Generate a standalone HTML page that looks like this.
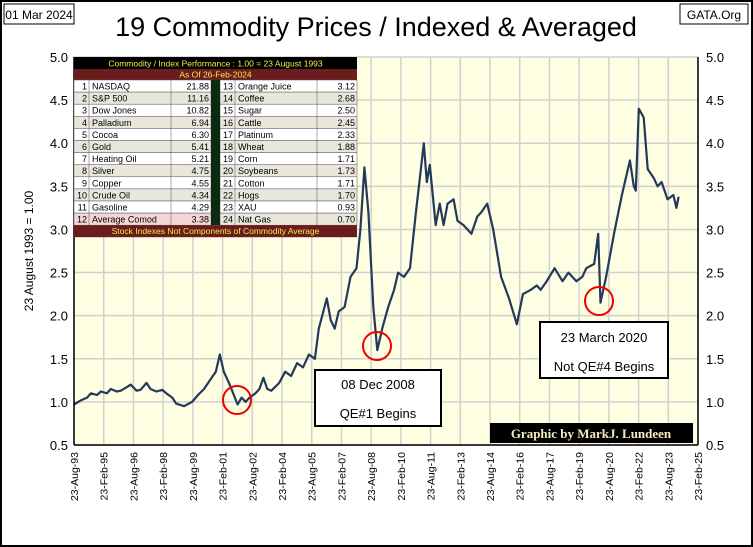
<!DOCTYPE html>
<html><head><meta charset="utf-8"><style>
body{margin:0;background:#fff;}
svg{display:block;font-family:"Liberation Sans",sans-serif;}
</style></head><body>
<svg id="c" width="753" height="547" xmlns="http://www.w3.org/2000/svg">
<rect x="1" y="1" width="751" height="545" fill="#fff" stroke="#000" stroke-width="2"/>
<rect x="74" y="57" width="624" height="388" fill="#fefee2"/>
<g id="grid"></g>
<g id="yt"></g>
<g id="xt"></g>
<path id="line" fill="none" stroke="#24395a" stroke-width="2.2" stroke-linejoin="round"/>
<line x1="74" y1="57" x2="74" y2="445" stroke="#000" stroke-width="1.5"/>
<line x1="74" y1="445" x2="698" y2="445" stroke="#000" stroke-width="1.5"/>
<line x1="698" y1="57" x2="698" y2="445" stroke="#000" stroke-width="1.5"/>
<text x="376" y="36" font-size="27" text-anchor="middle" font-family="Liberation Sans">19 Commodity Prices / Indexed &amp; Averaged</text>
<rect x="4" y="4" width="70" height="20" fill="#fff" stroke="#000"/>
<text x="39" y="19" font-size="12" text-anchor="middle">01 Mar 2024</text>
<rect x="680" y="4" width="68" height="20" fill="#fff" stroke="#000"/>
<text x="714" y="19" font-size="12" text-anchor="middle">GATA.Org</text>
<text transform="translate(33,251) rotate(-90)" font-size="12" text-anchor="middle">23 August 1993  =  1.00</text>
<g id="tbl"></g>
<circle cx="237" cy="400" r="14" fill="none" stroke="#e00" stroke-width="2"/>
<circle cx="377" cy="346" r="14" fill="none" stroke="#e00" stroke-width="2"/>
<circle cx="599" cy="301" r="14" fill="none" stroke="#e00" stroke-width="2"/>
<rect x="315" y="370" width="126" height="56" fill="#fff" stroke="#000" stroke-width="2"/>
<text x="378" y="389" font-size="13" text-anchor="middle">08 Dec 2008</text>
<text x="378" y="418" font-size="13" text-anchor="middle">QE#1 Begins</text>
<rect x="540" y="322" width="128" height="56" fill="#fff" stroke="#000" stroke-width="2"/>
<text x="604" y="342" font-size="13" text-anchor="middle">23 March 2020</text>
<text x="604" y="371" font-size="13" text-anchor="middle">Not QE#4 Begins</text>
<rect x="490" y="423" width="203" height="20" fill="#000"/>
<text x="591" y="438" font-size="13" font-weight="bold" fill="#f3ecc0" text-anchor="middle" font-family="Liberation Serif">Graphic by MarkJ. Lundeen</text>
</svg>
<script>
const yearsT=[1993.64,1994.0,1994.3,1994.5,1994.8,1995.0,1995.3,1995.5,1995.8,1996.0,1996.3,1996.5,1996.8,1997.0,1997.3,1997.5,1997.8,1998.1,1998.3,1998.6,1998.8,1999.2,1999.6,1999.9,2000.2,2000.5,2000.8,2001.0,2001.2,2001.5,2001.9,2002.1,2002.3,2002.5,2002.8,2003.0,2003.2,2003.4,2003.6,2004.0,2004.3,2004.6,2004.9,2005.2,2005.5,2005.8,2006.0,2006.4,2006.6,2006.8,2007.0,2007.3,2007.6,2007.9,2008.1,2008.3,2008.5,2008.75,2008.95,2009.2,2009.5,2009.8,2010.0,2010.3,2010.6,2010.9,2011.1,2011.3,2011.45,2011.6,2011.9,2012.1,2012.3,2012.5,2012.8,2013.0,2013.3,2013.7,2014.0,2014.2,2014.5,2014.8,2015.2,2015.6,2016.0,2016.3,2016.7,2017.0,2017.2,2017.5,2017.9,2018.3,2018.6,2019.0,2019.3,2019.5,2019.9,2020.1,2020.22,2020.5,2020.9,2021.3,2021.7,2021.9,2022.0,2022.15,2022.4,2022.6,2022.9,2023.1,2023.3,2023.6,2023.9,2024.05,2024.16];
const values=[0.97,1.02,1.05,1.10,1.08,1.12,1.10,1.15,1.12,1.13,1.17,1.20,1.13,1.14,1.22,1.15,1.12,1.14,1.10,1.05,0.98,0.95,1.00,1.08,1.15,1.25,1.35,1.55,1.35,1.20,0.97,1.05,1.00,1.05,1.10,1.15,1.28,1.15,1.13,1.22,1.35,1.30,1.45,1.40,1.55,1.50,1.85,2.20,1.95,1.85,2.05,2.10,2.45,2.55,3.00,3.72,3.20,2.10,1.60,1.85,2.10,2.30,2.50,2.45,2.55,3.20,3.60,4.00,3.55,3.75,3.05,3.30,3.05,3.30,3.35,3.10,3.05,2.95,3.15,3.20,3.30,3.00,2.45,2.20,1.90,2.25,2.30,2.35,2.30,2.40,2.55,2.40,2.50,2.40,2.45,2.55,2.60,2.95,2.15,2.45,2.95,3.40,3.80,3.50,3.45,4.40,4.30,3.70,3.60,3.50,3.55,3.35,3.40,3.25,3.38];
const yTicks=[0.5,1.0,1.5,2.0,2.5,3.0,3.5,4.0,4.5,5.0];
const xTickLabels=["23-Aug-93","23-Feb-95","23-Aug-96","23-Feb-98","23-Aug-99","23-Feb-01","23-Aug-02","23-Feb-04","23-Aug-05","23-Feb-07","23-Aug-08","23-Feb-10","23-Aug-11","23-Feb-13","23-Aug-14","23-Feb-16","23-Aug-17","23-Feb-19","23-Aug-20","23-Feb-22","23-Aug-23","23-Feb-25"];
const rowsL=[["1","NASDAQ","21.88"],["2","S&P 500","11.16"],["3","Dow Jones","10.82"],["4","Palladium","6.94"],["5","Cocoa","6.30"],["6","Gold","5.41"],["7","Heating Oil","5.21"],["8","Silver","4.75"],["9","Copper","4.55"],["10","Crude Oil","4.34"],["11","Gasoline","4.29"],["12","Average Comod","3.38"]];
const rowsR=[["13","Orange Juice","3.12"],["14","Coffee","2.68"],["15","Sugar","2.50"],["16","Cattle","2.45"],["17","Platinum","2.33"],["18","Wheat","1.88"],["19","Corn","1.71"],["20","Soybeans","1.73"],["21","Cotton","1.71"],["22","Hogs","1.70"],["23","XAU","0.93"],["24","Nat Gas","0.70"]];
const NS="http://www.w3.org/2000/svg";
const X0=74,X1=698,Y0=445,Y1=57,T0=1993.64,T1=2025.14;
function sx(t){return X0+(t-T0)/(T1-T0)*(X1-X0);}
function sy(v){return Y0-(v-0.5)/4.5*(Y0-Y1);}
function mk(tag,attrs,parent){const e=document.createElementNS(NS,tag);for(const k in attrs)e.setAttribute(k,attrs[k]);parent.appendChild(e);return e;}
const grid=document.getElementById('grid'),yt=document.getElementById('yt'),xt=document.getElementById('xt');
yTicks.forEach(v=>{
  const l=mk('line',{x1:X0,x2:X1,y1:sy(v),y2:sy(v),stroke:'#d0d0d0','stroke-width':1.5},grid);
  
  
  const a=mk('text',{x:X0-6,y:sy(v)+5,'font-size':13,'text-anchor':'end'},yt);a.textContent=v.toFixed(1);
  
  
  const b=mk('text',{x:X1+8,y:sy(v)+5,'font-size':13},yt);b.textContent=v.toFixed(1);
  
  
});
xTickLabels.forEach((s,i)=>{
  const x=sx(T0+i*1.5);
  const l=mk('line',{x1:x,x2:x,y1:Y1,y2:Y0,stroke:'#d0d0d0','stroke-width':1.5},grid);
  
  
  const t=mk('text',{transform:`translate(${x+4},452) rotate(-90)`,'font-size':10.5,'text-anchor':'end'},xt);t.textContent=s;
  
  
});
document.getElementById('line').setAttribute('d',yearsT.map((t,i)=>(i?'L':'M')+sx(t).toFixed(1)+','+sy(values[i]).toFixed(1)).join(''));
const tb=document.getElementById('tbl');
const TX=74,TW=283,RH=12.1;
mk('rect',{x:TX,y:57,width:TW,height:12,fill:'#000'},tb);
let h=mk('text',{x:TX+TW/2,y:66.5,'font-size':8.5,fill:'#f5e94a','text-anchor':'middle'},tb);h.textContent='Commodity / Index Performance : 1.00 = 23 August 1993';
mk('rect',{x:TX,y:69,width:TW,height:11,fill:'#6b1d1d'},tb);
h=mk('text',{x:TX+TW/2,y:77.5,'font-size':8.5,fill:'#f5e94a','text-anchor':'middle'},tb);h.textContent='As Of   26-Feb-2024';
[[rowsL,TX],[rowsR,TX+146]].forEach(([rows,x0])=>{
  rows.forEach((r,i)=>{
    const y=80+i*RH;
    const bg=(r[0]==='12')?'#f4d6d6':(i%2?'#e9e6dc':'#fff');
    const g=mk('g',{},tb);
    
    
    mk('rect',{x:x0,y:y,width:137,height:RH,fill:bg,stroke:'#555','stroke-width':0.5},g);
    mk('line',{x1:x0+15,x2:x0+15,y1:y,y2:y+RH,stroke:'#555','stroke-width':0.5},g);
    mk('line',{x1:x0+97,x2:x0+97,y1:y,y2:y+RH,stroke:'#555','stroke-width':0.5},g);
    let t=mk('text',{x:x0+13,y:y+9.5,'font-size':9,'text-anchor':'end'},g);t.textContent=r[0];
    t=mk('text',{x:x0+18,y:y+9.5,'font-size':9},g);t.textContent=r[1];
    t=mk('text',{x:x0+135,y:y+9.5,'font-size':9,'text-anchor':'end'},g);t.textContent=r[2];
  });
});
mk('rect',{x:TX+137,y:80,width:9,height:RH*12,fill:'#0c2a12'},tb);
mk('rect',{x:TX,y:80+RH*12,width:TW,height:12,fill:'#6b1d1d'},tb);
h=mk('text',{x:TX+TW/2,y:80+RH*12+9,'font-size':8.5,fill:'#f5e94a','text-anchor':'middle'},tb);h.textContent='Stock Indexes Not Components of Commodity Average';
</script>
</body></html>
